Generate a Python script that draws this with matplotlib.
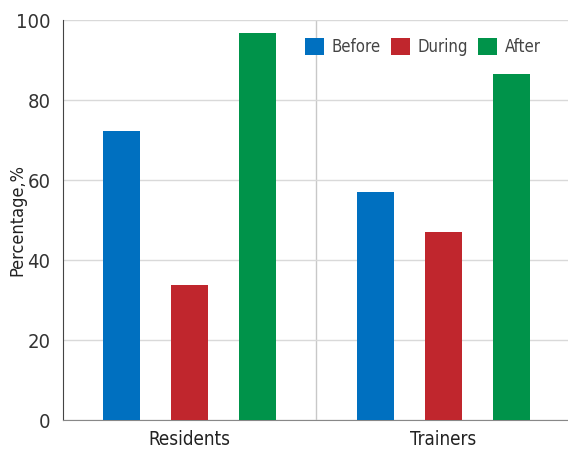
import numpy as np
import matplotlib.pyplot as plt

plt.rcParams['font.family'] = ['DejaVu Sans']
plt.rcParams['font.stretch'] = 'condensed'

groups = ['Residents', 'Trainers']
series = ['Before', 'During', 'After']
before = [72.2, 57.0]
during = [33.7, 47.0]
after = [96.7, 86.5]
colors = ['#0070c0', '#c0262d', '#00934a']

fig = plt.figure(figsize=(5.68, 4.5), dpi=100)
ax = fig.add_axes([63/568, 30/450, 507/568, 400/450])

x = np.arange(len(groups))
w = 0.146
off = 0.268
for i, (vals, name) in enumerate(zip([before, during, after], series)):
    ax.bar(x + (i - 1) * off, vals, w, color=colors[i], label=name, zorder=3)

ax.set_xlim(-0.5, 1.5)
ax.set_ylim(0, 100)
ax.set_yticks([0, 20, 40, 60, 80, 100])
ax.yaxis.grid(True, color='#d9d9d9', lw=1, zorder=0)
ax.axvline(0.5, color='#c8c8c8', lw=1, zorder=1)
ax.set_xticks(x)
ax.set_xticklabels(groups, fontsize=13.5, color='#222222')
ax.tick_params(axis='x', length=0, pad=7)
ax.tick_params(axis='y', length=0, labelsize=14.5, colors='#333333', pad=9)
ax.set_ylabel('Percentage,%', fontsize=13, color='#222222')
ax.yaxis.set_label_coords(-0.072, 0.5)
for s in ['top', 'right']:
    ax.spines[s].set_visible(False)
ax.spines['left'].set_color('#444444')
ax.spines['bottom'].set_color('#888888')

leg = ax.legend(loc='upper right', bbox_to_anchor=(0.965, 0.985), ncol=3, frameon=False,
                fontsize=12, handlelength=1.15, handleheight=1.25, columnspacing=0.6,
                handletextpad=0.45, borderaxespad=0.3)
for t in leg.get_texts():
    t.set_color('#444444')

fig.savefig('out.png', dpi=100)
